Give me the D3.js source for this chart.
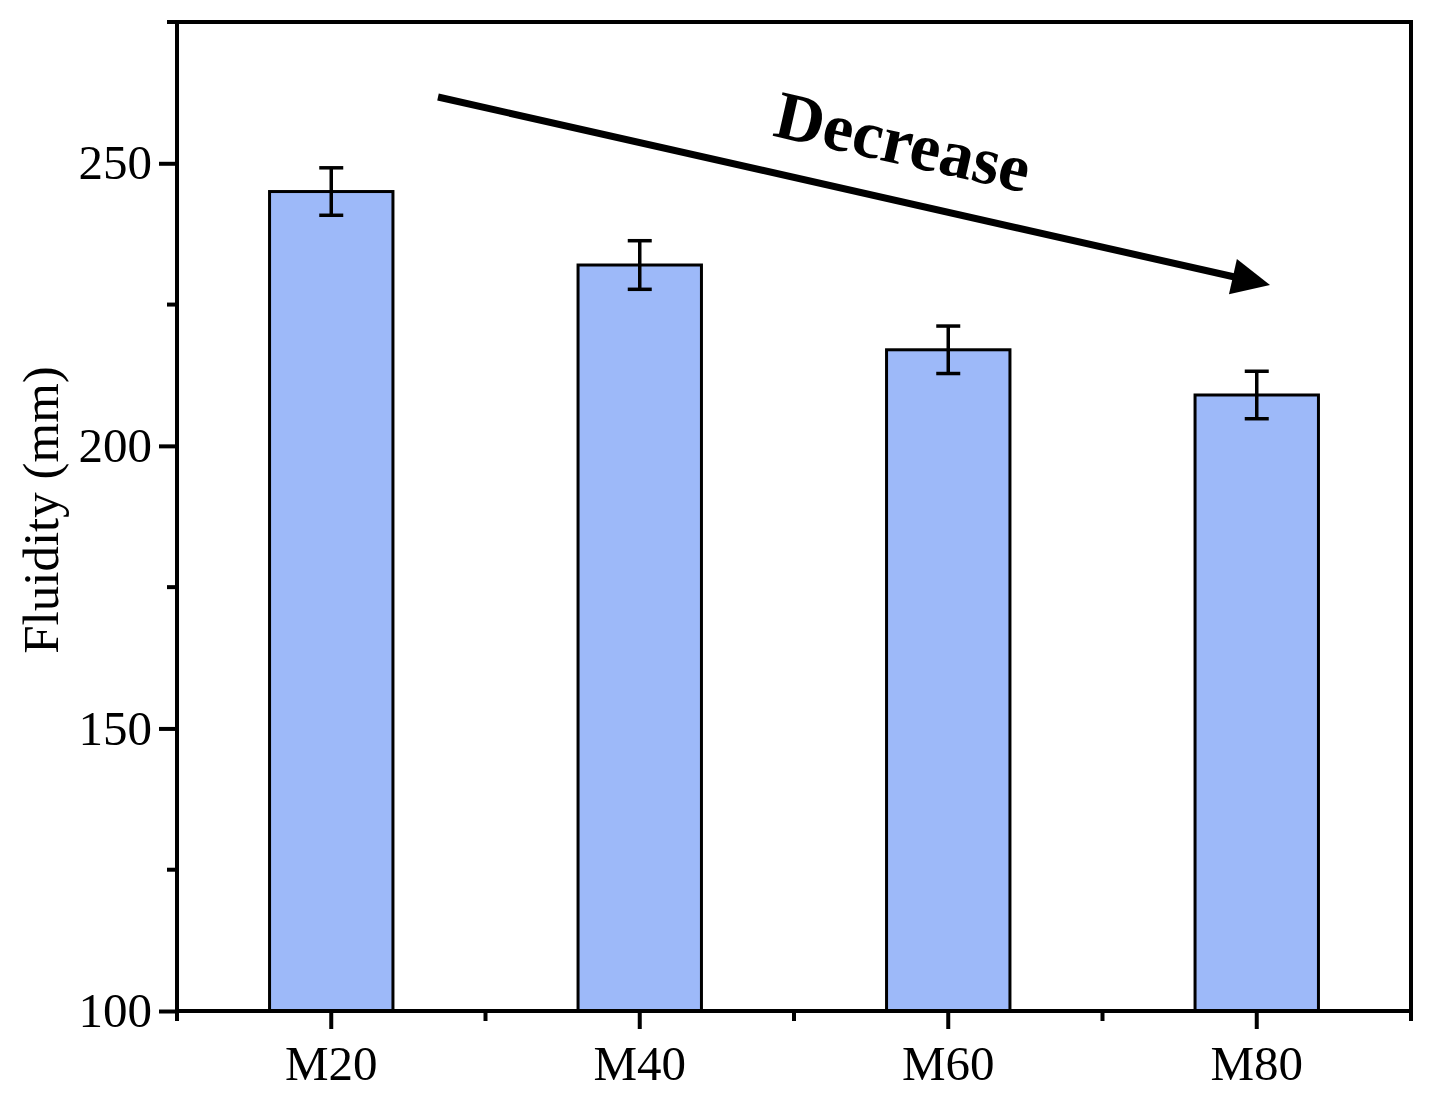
<!DOCTYPE html>
<html>
<head>
<meta charset="utf-8">
<script src="https://d3js.org/d3.v7.min.js"></script>
<style>
  body { margin: 0; background: #fff; }
  text { font-family: "Liberation Serif", "Times New Roman", serif; }
</style>
</head>
<body>
<div id="main"></div>
<script>
const categories = ["M20", "M40", "M60", "M80"];
const fluidity = [245, 232, 217, 209];
const errors = [4.2, 4.3, 4.2, 4.2];
const yTicks = [100, 150, 200, 250];
const yMinorTicks = [125, 175, 225, 275];

const width = 1430, height = 1097;
const margin = { top: 22, right: 19, bottom: 86, left: 177 };
const plotW = width - margin.left - margin.right,
    plotH = height - margin.top - margin.bottom;

const svg = d3.select('#main')
    .append('svg')
    .attr('width', width)
    .attr('height', height);

const g = svg.append('g')
    .attr('transform', `translate(${margin.left} ${margin.top})`);

const x = d3.scaleBand()
    .domain(categories)
    .range([0, plotW])
    .paddingInner(0.6)
    .paddingOuter(0.3);

const y = d3.scaleLinear()
    .domain([100, 275])
    .range([plotH, 0]);

// bars
g.selectAll('rect.bar')
    .data(categories)
    .enter()
    .append('rect')
    .attr('class', 'bar')
    .attr('x', d => x(d))
    .attr('y', (d, i) => y(fluidity[i]))
    .attr('width', x.bandwidth())
    .attr('height', (d, i) => plotH - y(fluidity[i]))
    .attr('fill', '#9db9f9')
    .attr('stroke', '#000')
    .attr('stroke-width', 3);

// error bars
const capW = 12;
const eb = g.selectAll('g.err')
    .data(categories)
    .enter()
    .append('g')
    .attr('class', 'err')
    .attr('stroke', '#000')
    .attr('stroke-width', 3.5);

eb.append('line')
    .attr('x1', d => x(d) + x.bandwidth() / 2)
    .attr('x2', d => x(d) + x.bandwidth() / 2)
    .attr('y1', (d, i) => y(fluidity[i] + errors[i]))
    .attr('y2', (d, i) => y(fluidity[i] - errors[i]));

[1, -1].forEach(s => {
    eb.append('line')
        .attr('x1', d => x(d) + x.bandwidth() / 2 - capW)
        .attr('x2', d => x(d) + x.bandwidth() / 2 + capW)
        .attr('y1', (d, i) => y(fluidity[i] + s * errors[i]))
        .attr('y2', (d, i) => y(fluidity[i] + s * errors[i]));
});

// frame
g.append('rect')
    .attr('x', 0).attr('y', 0)
    .attr('width', plotW).attr('height', plotH)
    .attr('fill', 'none')
    .attr('stroke', '#000')
    .attr('stroke-width', 4);

// y axis
const yAxis = g.append('g')
    .call(d3.axisLeft(y).tickValues(yTicks).tickSize(18).tickPadding(7).tickFormat(d3.format('d')));
yAxis.select('.domain').remove();
yAxis.selectAll('line').attr('stroke-width', 4);
yAxis.selectAll('text').style('font-size', '49px').attr('fill', '#000');

g.append('g')
    .selectAll('line')
    .data(yMinorTicks)
    .enter()
    .append('line')
    .attr('x1', -10).attr('x2', 0)
    .attr('y1', d => y(d)).attr('y2', d => y(d))
    .attr('stroke', '#000').attr('stroke-width', 4);

// x axis
const xAxis = g.append('g')
    .attr('transform', `translate(0 ${plotH})`)
    .call(d3.axisBottom(x).tickSize(18).tickPadding(16));
xAxis.select('.domain').remove();
xAxis.selectAll('line').attr('stroke-width', 4);
xAxis.selectAll('text').style('font-size', '49px').attr('fill', '#000');

const xMinor = d3.range(categories.length + 1).map(i => i * x.step());
g.append('g')
    .selectAll('line')
    .data(xMinor)
    .enter()
    .append('line')
    .attr('x1', d => d).attr('x2', d => d)
    .attr('y1', plotH).attr('y2', plotH + 10)
    .attr('stroke', '#000').attr('stroke-width', 4);

// y label
svg.append('text')
    .attr('transform', `translate(58 510) rotate(-90)`)
    .attr('text-anchor', 'middle')
    .style('font-size', '51px')
    .text('Fluidity (mm)');

// arrow annotation
const arrowStart = [438, 97], arrowEnd = [1270, 285];
const ang = Math.atan2(arrowEnd[1] - arrowStart[1], arrowEnd[0] - arrowStart[0]);
const headLen = 38, headHalf = 18;
const bx = arrowEnd[0] - headLen * Math.cos(ang), by = arrowEnd[1] - headLen * Math.sin(ang);
svg.append('line')
    .attr('x1', arrowStart[0]).attr('y1', arrowStart[1])
    .attr('x2', bx + 4 * Math.cos(ang)).attr('y2', by + 4 * Math.sin(ang))
    .attr('stroke', '#000').attr('stroke-width', 7);
svg.append('path')
    .attr('d', d3.line()([
        arrowEnd,
        [bx + headHalf * Math.sin(ang), by - headHalf * Math.cos(ang)],
        [bx - headHalf * Math.sin(ang), by + headHalf * Math.cos(ang)]
    ]) + 'Z')
    .attr('fill', '#000');

svg.append('text')
    .attr('transform', `translate(898 164) rotate(${ang * 180 / Math.PI})`)
    .attr('text-anchor', 'middle')
    .style('font-size', '68px')
    .style('font-weight', 'bold')
    .text('Decrease');
</script>
</body>
</html>
